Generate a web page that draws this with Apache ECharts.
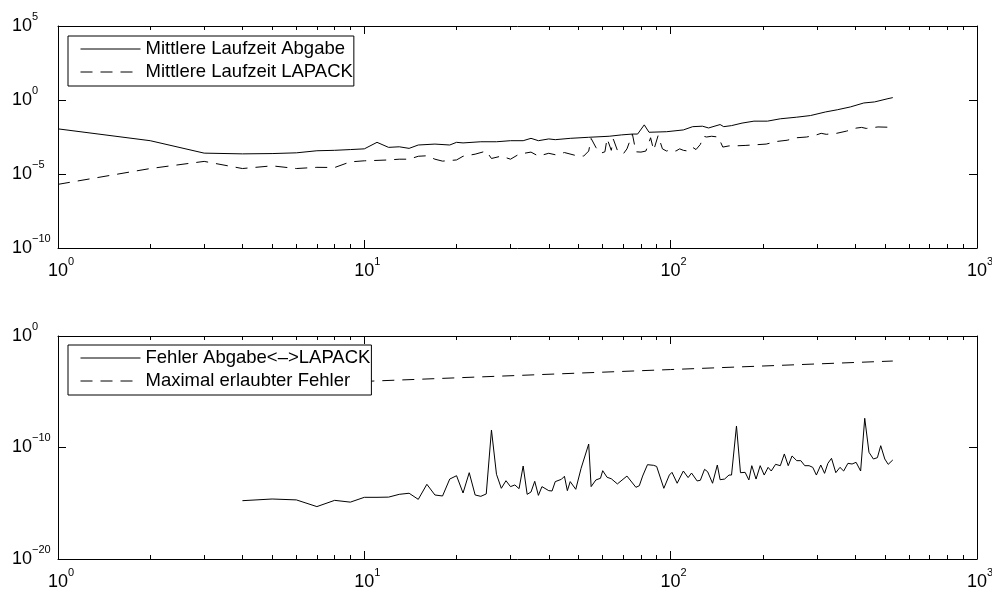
<!DOCTYPE html>
<html><head><meta charset="utf-8">
<script src="https://cdn.jsdelivr.net/npm/echarts@6/dist/echarts.min.js"></script>
<style>html,body{margin:0;padding:0;background:#fff}#c{width:992px;height:590px}</style>
</head><body><div id="c"></div>
<script>
// ---- tick values ----
const xMajorTicks = [1, 10, 100, 1000];
const xMinorTicks = [2,3,4,5,6,7,8,9,20,30,40,50,60,70,80,90,200,300,400,500,600,700,800,900];
const yTicksTop = [1e-10, 1e-5, 1, 1e5];
const yTicksBottom = [1e-20, 1e-10, 1];

// ---- top plot: mean run time ----
const abgabeN = [1,2,3,4,5,6,7,8,9,10,11,12,13,14,15,17,19,20,21,24,27,30,33,35,37,40,42,47,54,63,69,75,78,82,85,97,110,118,127,133,145,149,158,171,187,207,228,258,286,320,350,386,427,463,512,531];
const abgabeT = [1.12e-2,1.78e-3,2.57e-4,2.29e-4,2.4e-4,2.69e-4,3.72e-4,3.98e-4,4.47e-4,5.0e-4,
  1.38e-3,6.3e-4,6.9e-4,5.4e-4,9.1e-4,1.05e-3,9.1e-4,1.38e-3,1.26e-3,1.51e-3,
  1.51e-3,1.78e-3,1.78e-3,2.57e-3,1.78e-3,2.34e-3,2.09e-3,2.57e-3,3.02e-3,3.55e-3,
  4.37e-3,5.0e-3,5.0e-3,2.09e-2,6.6e-3,7.2e-3,9.5e-3,1.58e-2,1.7e-2,1.29e-2,
  2.19e-2,1.58e-2,1.86e-2,2.75e-2,3.72e-2,3.72e-2,5.37e-2,6.9e-2,8.9e-2,0.155,
  0.219,0.339,0.63,0.74,1.23,1.45];

const lapackN = [1,2,3,4,5,6,7,8,9,10,11,12,13,14,15,16,17,18,20,21,23,25,26,28,30,32,35,37,40,42,45,49,52,54,55,57,59,61,62,64,65,67,70,72,75,77,80,83,86,88,91,94,97,100,104,107,110,114,118,121,125,128,131,136,143,148,155,165,175,190,205,222,240,258,278,300,310,322,348,375,403,420,435,475,512,531];
const lapackT = [2.0e-6,2.34e-5,7.1e-5,2.34e-5,3.55e-5,2.34e-5,2.82e-5,2.75e-5,6.6e-5,7.8e-5,
  8.3e-5,8.9e-5,1.0e-4,1.0e-4,1.58e-4,1.7e-4,1.0e-4,7.4e-5,8.9e-5,1.58e-4,
  2.19e-4,3.55e-4,1.12e-4,1.62e-4,1.0e-4,2.19e-4,3.02e-4,1.62e-4,2.51e-4,2.0e-4,
  2.82e-4,1.78e-4,1.62e-4,3.55e-4,2.51e-3,6.3e-4,2.51e-4,3.16e-4,2.51e-3,3.98e-4,
  2.24e-3,3.98e-4,2.24e-4,5.0e-4,5.0e-3,3.16e-4,3.02e-4,3.55e-4,2.82e-3,3.98e-4,
  3.98e-3,5.0e-4,3.55e-4,4.47e-4,3.55e-4,5.0e-4,3.98e-4,3.55e-4,6.3e-4,4.47e-4,
  1.0e-3,3.55e-3,3.16e-3,3.55e-3,3.16e-3,6.6e-4,7.9e-4,8.1e-4,8.5e-4,9.5e-4,
  1.05e-3,1.58e-3,1.91e-3,2.82e-3,3.16e-3,4.47e-3,5.6e-3,4.8e-3,5.6e-3,7.9e-3,
  1.26e-2,1.41e-2,1.2e-2,1.51e-2,1.45e-2,1.45e-2];

// ---- bottom plot: error ----
const errorN = [4,5,6,7,8,9,10,11,12,13,14,15,16,17,18,19,20,21,22,23,24,25,26,27,28,29,30,31,32,33,34,35,36,37,38,40,41,42,44,45,46,47,49,51,54,55,57,59,60,62,64,67,72,77,79,81,84,88,90,95,99,101,105,110,114,117,122,125,129,132,137,142,145,150,155,158,164,169,175,180,184,190,196,202,208,213,220,228,235,242,249,258,266,274,283,291,299,309,318,326,335,346,357,367,379,391,403,417,430,444,459,473,485,500,513,531];
const errorVal = [1.7e-15,2.4e-15,2.0e-15,5.0e-16,1.82e-15,1.26e-15,3.4e-15,3.4e-15,3.55e-15,6.3e-15,
  7.9e-15,2.24e-15,5.0e-14,5.5e-15,4.47e-15,1.48e-13,2.95e-13,8.3e-15,5.5e-13,5.5e-15,
  4.17e-15,6.8e-15,3.72e-9,3.98e-13,2.19e-14,1.05e-13,3.09e-14,4.37e-14,2.04e-14,2.19e-12,
  6.3e-15,1.02e-14,9.3e-14,5.1e-15,3.09e-14,1.35e-14,1.26e-14,8.7e-14,1.41e-13,2.63e-13,
  1.35e-14,8.7e-14,1.78e-14,1.35e-12,2.04e-10,3.09e-14,1.23e-13,1.74e-13,8.3e-13,2.14e-13,
  1.58e-13,5.4e-14,2.75e-13,2.69e-14,3.72e-14,2.75e-13,2.88e-12,2.51e-12,2.0e-12,2.19e-14,
  3.39e-13,5.9e-13,6.2e-14,7.8e-13,2.0e-13,5.1e-13,1.0e-13,1.15e-13,1.1e-12,6.8e-13,
  6.2e-14,2.69e-12,1.29e-13,1.48e-13,3.39e-13,3.39e-13,8.5e-9,5.5e-13,5.9e-13,1.23e-13,
  2.34e-12,1.48e-13,2.34e-12,3.39e-13,1.66e-12,7.8e-13,3.09e-12,2.34e-12,2.63e-11,2.34e-12,
  1.74e-11,6.6e-12,6.6e-12,2.34e-12,2.34e-12,1.66e-12,3.39e-13,2.69e-12,4.8e-13,3.8e-12,
  1.07e-11,5.5e-13,1.66e-12,7.8e-13,3.8e-12,3.31e-12,4.68e-12,7.8e-13,4.17e-8,3.72e-11,
  9.3e-12,1.23e-11,1.45e-10,9.3e-12,3.09e-12,7.6e-12];

const tolN = [4, 10, 100, 531];
const tolVal = [3.2e-5, 8.5e-5, 9.8e-4, 5.7e-3];

const names = ['Mittlere Laufzeit Abgabe', 'Mittlere Laufzeit LAPACK', 'Fehler Abgabe<–>LAPACK', 'Maximal erlaubter Fehler'];

// ---- styling ----
const FONT = '"Liberation Sans", Arial, Helvetica, sans-serif';
const DASH = [12, 8];
const richLabel = {
  p: { fontSize: 11, width: 6, fontFamily: FONT },
  b: { fontSize: 18, lineHeight: 30, fontFamily: FONT, color: '#000' },
  s: { fontSize: 11, lineHeight: 12, verticalAlign: 'top', fontFamily: FONT, color: '#000' }
};
function expText(v) {
  const e = Math.round(Math.log10(v));
  return e < 0 ? '\u2212' + (-e) : String(e);
}
function pairs(xs, ys) { return xs.map((x, i) => [x, ys[i]]); }

function xAxes(gi) {
  const base = { gridIndex: gi, type: 'log', logBase: 10, min: 1, max: 1000, splitLine: { show: false }, minorTick: { show: false } };
  return [
    Object.assign({}, base, {
      position: 'bottom',
      axisLine: { show: true, onZero: false, lineStyle: { color: '#000', width: 1 } },
      axisTick: { show: true, inside: true, length: 8, customValues: xMajorTicks, lineStyle: { color: '#000', width: 1 } },
      axisLabel: { show: true, customValues: xMajorTicks, margin: 8, formatter: v => '{p| }{b|10}{s|' + expText(v) + '}', rich: richLabel }
    }),
    Object.assign({}, base, {
      position: 'bottom',
      axisLine: { show: false },
      axisTick: { show: true, inside: true, length: 4, customValues: xMinorTicks, lineStyle: { color: '#000', width: 1 } },
      axisLabel: { show: false }
    }),
    Object.assign({}, base, {
      position: 'top',
      axisLine: { show: true, onZero: false, lineStyle: { color: '#000', width: 1 } },
      axisTick: { show: true, inside: true, length: 8, customValues: xMajorTicks, lineStyle: { color: '#000', width: 1 } },
      axisLabel: { show: false }
    }),
    Object.assign({}, base, {
      position: 'top',
      axisLine: { show: false },
      axisTick: { show: true, inside: true, length: 4, customValues: xMinorTicks, lineStyle: { color: '#000', width: 1 } },
      axisLabel: { show: false }
    })
  ];
}
function yAxes(gi, mn, mx, ticks) {
  const base = { gridIndex: gi, type: 'log', logBase: 10, min: mn, max: mx, splitLine: { show: false }, minorTick: { show: false } };
  return [
    Object.assign({}, base, {
      position: 'left',
      axisLine: { show: true, onZero: false, lineStyle: { color: '#000', width: 1 } },
      axisTick: { show: true, inside: true, length: 8, customValues: ticks, lineStyle: { color: '#000', width: 1 } },
      axisLabel: { show: true, customValues: ticks, margin: 46, align: 'left', formatter: v => '{b|10}{s|' + expText(v) + '}', rich: richLabel }
    }),
    Object.assign({}, base, {
      position: 'right',
      axisLine: { show: true, onZero: false, lineStyle: { color: '#000', width: 1 } },
      axisTick: { show: true, inside: true, length: 8, customValues: ticks, lineStyle: { color: '#000', width: 1 } },
      axisLabel: { show: false }
    })
  ];
}
function legend(items, left, top) {
  return {
    data: items, orient: 'vertical', left: left, top: top,
    itemWidth: 60, itemHeight: 14, itemGap: 3,
    padding: [3, 1, 4, 12],
    borderColor: '#000', borderWidth: 1, backgroundColor: '#fff', borderRadius: 0,
    selectedMode: false,
    itemStyle: { color: 'transparent', borderColor: 'transparent', borderWidth: 0, opacity: 0 },
    lineStyle: { width: 1 },
    textStyle: { fontSize: 18.5, fontFamily: FONT, color: '#000', lineHeight: 20 }
  };
}
function lineSeries(name, xi, yi, data, dashed) {
  return {
    name: name, type: 'line', xAxisIndex: xi, yAxisIndex: yi, data: data,
    symbol: 'none', showSymbol: false, silent: true, animation: false, clip: true,
    itemStyle: { color: '#000' },
    lineStyle: { color: '#000', width: 1, type: dashed ? DASH : 'solid' }
  };
}

const chart = echarts.init(document.getElementById('c'), null, { renderer: 'canvas' });
chart.setOption({
  backgroundColor: '#fff',
  animation: false,
  grid: [
    { left: 58, top: 26, width: 919, height: 222, outerBoundsMode: 'none', containLabel: false },
    { left: 58, top: 336, width: 919, height: 223, outerBoundsMode: 'none', containLabel: false }
  ],
  xAxis: xAxes(0).concat(xAxes(1)),
  yAxis: yAxes(0, 1e-10, 1e5, yTicksTop).concat(yAxes(1, 1e-20, 1, yTicksBottom)),
  legend: [legend([names[0], names[1]], 68, 36), legend([names[2], names[3]], 68, 345)],
  series: [
    lineSeries(names[0], 0, 0, pairs(abgabeN, abgabeT), false),
    lineSeries(names[1], 0, 0, pairs(lapackN, lapackT), true),
    lineSeries(names[2], 4, 2, pairs(errorN, errorVal), false),
    lineSeries(names[3], 4, 2, pairs(tolN, tolVal), true)
  ]
});
</script></body></html>
